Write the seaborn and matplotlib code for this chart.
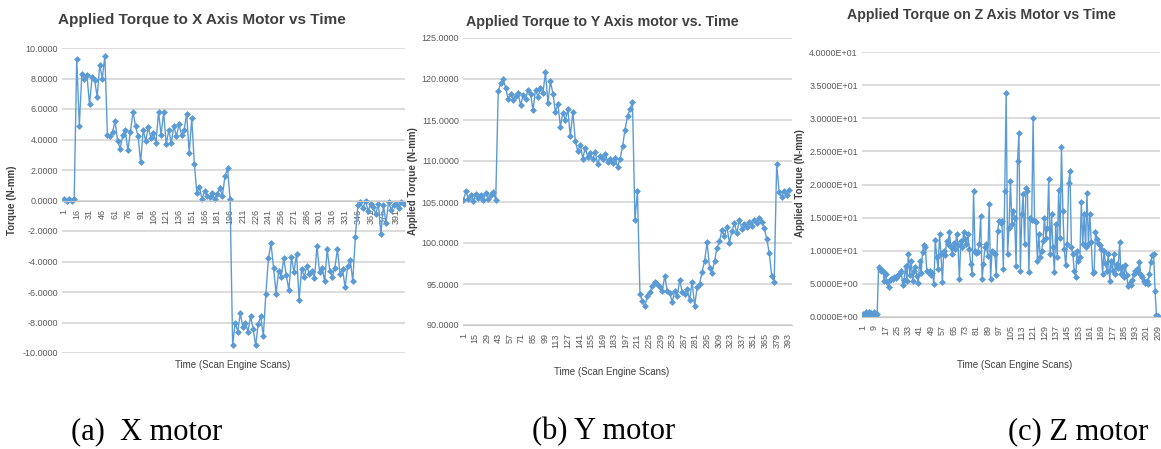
import numpy as np
import matplotlib
matplotlib.use("Agg")
import matplotlib.pyplot as plt
import seaborn as sns
from matplotlib.ticker import FuncFormatter, FixedLocator, MultipleLocator

# X motor torque, one value every 3 scans starting at scan 1
x_torque = [0.1, 0.0, 0.1, 0.0, 0.1,
            9.3, 4.9, 8.3, 8.0, 8.2, 6.3, 8.1, 7.9, 6.8, 8.9, 8.0, 9.5,
            4.3, 4.2, 4.5, 5.2, 3.9, 3.4, 4.3, 4.6, 3.3, 4.5, 5.8, 4.9, 4.2, 2.5, 4.6, 3.9, 4.8,
            4.1, 4.4, 3.8, 5.8, 4.3, 5.8, 3.7, 4.6, 3.8, 4.9, 4.2, 5.0, 4.3, 4.6, 5.7, 3.1, 5.4,
            2.4, 0.5, 0.9, 0.1, 0.6, 0.3, 0.2, 0.5, 0.1, 0.4, 0.8, 0.3, 1.6, 2.1, 0.1,
            -9.5, -8.0, -8.6, -7.4, -8.3, -8.0, -8.6, -7.6, -8.4, -9.5, -8.1, -7.6, -8.9,
            -6.1, -3.8, -2.8, -4.4, -6.1, -4.6, -5.0, -3.8, -4.9, -5.9, -3.7, -4.7, -3.5, -6.5,
            -4.5, -5.0, -4.3, -4.8, -4.6, -5.1, -3.0, -4.7, -4.4, -5.3, -3.2, -4.6, -5.0, -4.4,
            -3.2, -4.8, -4.5, -5.7, -4.3, -3.9, -5.3,
            -2.4, -0.3, -0.1, -0.5, 0.0, -0.7, -0.2, -0.4, -0.9, -0.2, -2.2, -0.3, -1.5, -0.1,
            -0.6, -0.3, -0.2, -0.5, -0.1, -0.2]

# Y motor torque, one value every 3 scans starting at scan 1
y_torque = [105.2, 106.3, 105.4, 105.9, 105.1, 106.0, 105.5, 105.8, 105.2, 106.1, 105.4, 105.9, 106.2, 105.3,
            118.5, 119.5, 120.0, 118.9, 117.6, 118.2, 117.5, 117.9, 118.3, 116.8, 118.0, 117.6, 118.6,
            118.2, 116.2, 118.7, 117.8, 118.9, 118.3, 120.8, 117.1, 119.7, 118.2,
            116.0, 117.0, 114.2, 115.9, 115.0, 116.3, 113.0, 116.0, 112.5,
            111.2, 112.0, 110.3, 111.6, 110.5, 111.0, 110.2, 111.1, 109.6, 110.6, 110.2, 110.9,
            109.9, 110.3, 109.8, 110.4, 109.3, 110.2,
            111.8, 113.8, 115.5, 116.3, 117.2, 102.8, 106.3,
            93.8, 92.9, 92.3, 93.5, 94.0, 94.8, 95.3, 95.0, 94.6, 94.2, 96.0, 94.1, 93.9, 92.8,
            94.2, 93.5, 95.5, 94.0, 93.8, 94.4, 93.0, 95.3, 92.3, 94.6, 95.0,
            96.5, 97.8, 100.1, 97.0, 96.4, 97.8, 99.4, 100.2, 101.6, 100.8, 102.0, 100.0, 101.5,
            102.4, 101.2, 102.8, 101.7, 102.3, 101.9, 102.6, 102.1, 102.8, 102.4, 103.0, 102.6,
            101.8, 100.5, 98.8, 96.0, 95.2,
            109.6, 106.2, 105.6, 106.4, 105.9, 106.5]

# Z motor torque, one value per scan (1..209)
z_torque = [0.5, 0.2, 0.7, 0.3, 0.8, 0.2, 0.6, 0.4, 0.7, 0.3, 0.5,
            7.6, 7.2, 6.9, 7.0, 5.5, 6.5, 5.3, 4.5, 5.6, 5.8, 5.7, 6.0, 5.9, 6.2, 6.4, 6.6, 6.9,
            4.8, 5.6, 7.7, 5.5, 9.5, 6.4, 8.5, 5.5, 7.0, 7.5, 6.2, 5.2, 8.5, 6.6, 9.8, 10.8, 10.5,
            7.0, 6.8, 7.0, 6.3, 6.6, 5.0, 11.6, 9.0, 7.2, 12.5, 9.5, 5.3, 10.0, 9.3, 11.5, 11.0,
            12.8, 10.5, 9.5, 11.2, 10.3, 12.5, 10.8, 5.7, 11.5, 10.6, 12.8, 11.7, 11.0, 12.5, 10.2,
            8.0, 6.5, 19.0, 10.0, 9.6, 9.8, 11.0, 15.2, 5.7, 8.0, 10.5, 11.0, 9.2, 17.0, 5.7, 10.0,
            9.8, 9.5, 6.3, 13.0, 14.5, 14.2, 14.5, 7.3, 19.0, 33.8, 9.5, 13.5, 20.5, 14.0, 16.0,
            15.0, 7.7, 23.5, 27.8, 7.0, 15.5, 18.5, 11.0, 19.5, 19.0, 6.8, 15.0, 14.6, 30.1, 14.5,
            14.3, 8.5, 12.5, 9.0, 10.0, 11.5, 15.0, 12.0, 13.5, 20.8, 9.5, 15.5, 10.5, 6.8, 14.0,
            9.0, 19.2, 12.0, 25.6, 16.0, 10.2, 7.8, 11.0, 20.2, 22.0, 10.5, 9.5, 7.0, 6.0, 10.0,
            8.5, 9.0, 17.3, 11.0, 15.5, 10.5, 18.7, 11.0, 15.5, 11.3, 6.6, 6.8, 12.8, 11.8, 11.2,
            10.8, 10.3, 6.5, 10.0, 8.2, 7.0, 9.5, 5.5, 8.5, 7.0, 9.5, 6.5, 8.0, 7.4, 11.3, 6.5,
            7.5, 6.0, 7.8, 6.3, 4.7, 5.2, 4.8, 5.6, 6.5, 6.9, 7.2, 6.8, 8.3, 6.3, 6.0, 5.5, 5.2,
            5.5, 5.0, 6.5, 8.3, 9.3, 9.5, 4.0, 0.3, 0.2]

x_scans = np.arange(1, 3 * len(x_torque), 3)[:len(x_torque)]
y_scans = np.arange(1, 3 * len(y_torque), 3)[:len(y_torque)]
z_scans = np.arange(1, len(z_torque) + 1)

x_ticks = list(range(1, 401, 15))
y_ticks = list(range(1, 395, 14))
z_ticks = list(range(1, 210, 8))

titles = ["Applied Torque to X Axis Motor vs Time",
          "Applied Torque to Y Axis motor vs. Time",
          "Applied Torque on Z Axis Motor vs Time"]
ylabels = ["Torque (N-mm)", "Applied Torque (N-mm)", "Applied Torque (N-mm)"]
captions = ["(a)  X motor", "(b) Y motor", "(c) Z motor"]

sns.set_style("white")
plt.rcParams['font.family'] = ['Liberation Sans Narrow', 'Liberation Sans', 'DejaVu Sans']

blue = "#5b9bd5"
grid_c = "#d9d9d9"
txt_c = "#595959"

fig = plt.figure(figsize=(11.61, 4.49), dpi=100)
W, H = 1161, 449


def px_axes(l, t, r, b):
    return fig.add_axes([l / W, 1 - b / H, (r - l) / W, (b - t) / H])


def style(ax, ticks, xlim, ylim, ystep, fmt, zero_axis=False):
    if zero_axis:
        ax.spines['bottom'].set_position(('data', 0))
    ax.set_xlim(*xlim)
    ax.set_ylim(*ylim)
    ax.yaxis.set_major_locator(MultipleLocator(ystep))
    ax.yaxis.set_major_formatter(FuncFormatter(fmt))
    ax.xaxis.set_major_locator(FixedLocator(ticks))
    ax.xaxis.set_minor_locator(MultipleLocator(1))
    ax.set_xticklabels([str(t) for t in ticks])
    ax.grid(axis='y', color=grid_c, lw=1.3)
    ax.set_axisbelow(True)
    for s in ['top', 'right', 'left']:
        ax.spines[s].set_visible(False)
    ax.spines['bottom'].set_color('#c8c8c8')
    ax.tick_params(axis='x', which='both', length=4, width=0.4, color='#b0b0b0',
                   labelsize=6.5, labelcolor=txt_c, pad=2, labelrotation=90)
    ax.tick_params(axis='y', length=0, labelsize=6.5, labelcolor=txt_c, pad=3)
    ax.set_xlabel("")
    ax.set_ylabel("")


line_kw = dict(color=blue, marker='D', markersize=3.5, markeredgewidth=0, linewidth=1.0)

# (a) X motor
ax1 = px_axes(62, 48, 405, 353)
sns.lineplot(x=x_scans, y=x_torque, ax=ax1, **line_kw)
style(ax1, x_ticks, (-1.3, 401.3), (-10, 10), 2, lambda v, p: f"{v:.4f}", zero_axis=True)

# (b) Y motor
ax2 = px_axes(463, 38, 792, 325)
sns.lineplot(x=y_scans, y=y_torque, ax=ax2, **line_kw)
style(ax2, y_ticks, (0.5, 397.5), (90, 125), 5, lambda v, p: f"{v:.4f}")

# (c) Z motor
ax3 = px_axes(862, 52, 1160, 317)
sns.lineplot(x=z_scans, y=z_torque, ax=ax3, **line_kw)
style(ax3, z_ticks, (0.3, 210.5), (0, 40), 5, lambda v, p: f"{v:.4E}")

# titles, axis labels, captions
for (cx, cy, fs), t in zip([(202, 20, 11), (602, 22, 10.3), (981, 15, 10.2)], titles):
    fig.text(cx / W, 1 - cy / H, t, ha='center', va='center', fontsize=fs,
             fontweight='bold', color='#404040')
for (cx, cy), t in zip([(12, 200), (413, 181), (800, 183)], ylabels):
    fig.text(cx / W, 1 - cy / H, t, ha='center', va='center', fontsize=7,
             fontweight='bold', rotation=90, color='#404040')
for cx, cy in [(233, 365), (612, 372), (1015, 365)]:
    fig.text(cx / W, 1 - cy / H, "Time (Scan Engine Scans)", ha='center', va='center',
             fontsize=7, color='#404040')
for lx, t in zip([71, 532, 1008], captions):
    fig.text(lx / W, 1 - 432 / H, t, ha='left', va='center', fontsize=22,
             family='Liberation Serif', color='black')

fig.savefig("out.png", dpi=100)
